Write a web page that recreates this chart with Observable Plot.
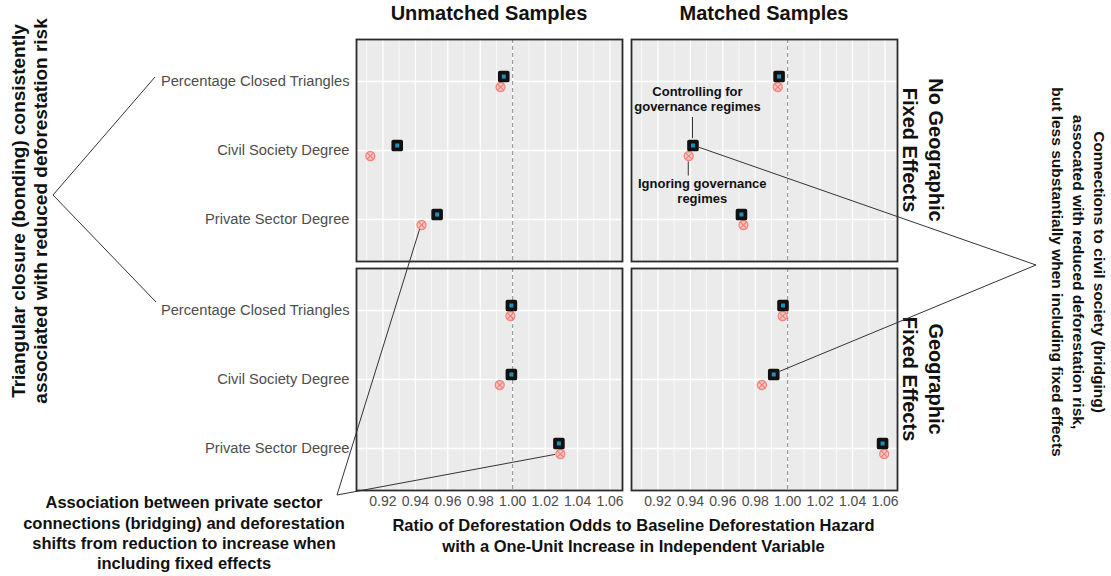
<!DOCTYPE html>
<html>
<head>
<meta charset="utf-8">
<script src="https://cdn.jsdelivr.net/npm/d3@7"></script>
<script src="https://cdn.jsdelivr.net/npm/@observablehq/plot@0.6"></script>
<style>
  body { margin: 0; background: #fff; }
  svg { display: block; }
</style>
</head>
<body>
<div id="chart"></div>
<script>
// ---- Data ----
const categories = ["Percentage Closed Triangles", "Civil Society Degree", "Private Sector Degree"];
const sampleLabels = ["Unmatched Samples", "Matched Samples"];
const effectLabels = ["No Geographic\nFixed Effects", "Geographic\nFixed Effects"];
const modelLabels = ["Controlling for governance regimes", "Ignoring governance regimes"];

// odds ratios per category (same order as categories)
const controlUnmatchedNoFE = [0.9945, 0.9288, 0.9534];
const ignoreUnmatchedNoFE  = [0.9925, 0.9122, 0.9438];
const controlUnmatchedFE   = [0.9992, 0.9992, 1.0285];
const ignoreUnmatchedFE    = [0.9986, 0.9920, 1.0294];
const controlMatchedNoFE   = [0.9947, 0.9416, 0.9715];
const ignoreMatchedNoFE    = [0.9939, 0.9390, 0.9727];
const controlMatchedFE     = [0.9971, 0.9914, 1.0585];
const ignoreMatchedFE      = [0.9969, 0.9841, 1.0595];

const xTicks = [0.92, 0.94, 0.96, 0.98, 1.00, 1.02, 1.04, 1.06];
const xMinorTicks = [0.91, 0.93, 0.95, 0.97, 0.99, 1.01, 1.03, 1.05];

const leftNote = ["Triangular closure (bonding) consistently", "associated with reduced deforestation risk"];
const rightNote = ["Connections to civil society (bridging)", "assocated with reduced deforestation risk,", "but less substantially when including fixed effects"];
const bottomNote = ["Association between private sector", "connections (bridging) and deforestation", "shifts from reduction to increase when", "including fixed effects"];
const controlNote = ["Controlling for", "governance regimes"];
const ignoreNote = ["Ignoring governance", "regimes"];
const xTitle = ["Ratio of Deforestation Odds to Baseline Deforestation Hazard", "with a One-Unit Increase in Independent Variable"];

const series = [
  {sample: sampleLabels[0], effect: effectLabels[0], model: modelLabels[0], values: controlUnmatchedNoFE},
  {sample: sampleLabels[0], effect: effectLabels[0], model: modelLabels[1], values: ignoreUnmatchedNoFE},
  {sample: sampleLabels[0], effect: effectLabels[1], model: modelLabels[0], values: controlUnmatchedFE},
  {sample: sampleLabels[0], effect: effectLabels[1], model: modelLabels[1], values: ignoreUnmatchedFE},
  {sample: sampleLabels[1], effect: effectLabels[0], model: modelLabels[0], values: controlMatchedNoFE},
  {sample: sampleLabels[1], effect: effectLabels[0], model: modelLabels[1], values: ignoreMatchedNoFE},
  {sample: sampleLabels[1], effect: effectLabels[1], model: modelLabels[0], values: controlMatchedFE},
  {sample: sampleLabels[1], effect: effectLabels[1], model: modelLabels[1], values: ignoreMatchedFE}
];
const rows = series.flatMap(s => categories.map((c, i) => ({
  sample: s.sample, effect: s.effect, model: s.model, category: c, value: s.values[i]
})));
const controlRows = rows.filter(d => d.model === modelLabels[0]);
const ignoreRows = rows.filter(d => d.model === modelLabels[1]);

const FONT = '"Liberation Sans", Arial, Helvetica, sans-serif';
const PINK = "#F8766D";
const BLUE = "#1E90C0";
const DY_CONTROL = -5;
const DY_IGNORE = 5.5;

const plot = Plot.plot({
  width: 1111,
  height: 576,
  marginLeft: 356,
  marginRight: 213,
  marginTop: 38,
  marginBottom: 85,
  style: {fontFamily: FONT, background: "white", overflow: "visible"},
  fx: {domain: sampleLabels, paddingInner: 0.0326, paddingOuter: 0, axis: null, label: null},
  fy: {domain: effectLabels, paddingInner: 0.0304, paddingOuter: 0, axis: null, label: null},
  x: {domain: [0.9037, 1.0677]},
  y: {type: "point", domain: categories, padding: 0.6},
  marks: [
    Plot.frame({fill: "#EBEBEB"}),
    Plot.ruleX(xMinorTicks, {stroke: "#fff", strokeWidth: 0.7}),
    Plot.ruleX(xTicks, {stroke: "#fff", strokeWidth: 1.3}),
    Plot.ruleY(categories, {stroke: "#fff", strokeWidth: 1.3}),
    Plot.ruleX([1], {stroke: "#7a7a7a", strokeWidth: 0.9, strokeDasharray: "4,3"}),
    Plot.frame({stroke: "#2b2b2b", strokeWidth: 1.8}),
    Plot.dot(ignoreRows, {x: "value", y: "category", fx: "sample", fy: "effect", dy: DY_IGNORE,
      symbol: "circle", r: 4.5, stroke: PINK, strokeWidth: 1.3, strokeOpacity: 0.85, fill: PINK, fillOpacity: 0.3}),
    Plot.dot(ignoreRows, {x: "value", y: "category", fx: "sample", fy: "effect", dy: DY_IGNORE,
      symbol: "times", r: 3, stroke: PINK, strokeWidth: 1.2, strokeOpacity: 0.9}),
    Plot.dot(controlRows, {x: "value", y: "category", fx: "sample", fy: "effect", dy: DY_CONTROL,
      symbol: "square", r: 4.4, fill: BLUE, stroke: "#111", strokeWidth: 3.8, strokeLinejoin: "round"}),
    Plot.axisX({ticks: xTicks, tickFormat: ".2f", tickSize: 0, tickPadding: 6, fontSize: 14, fill: "#4D4D4D", label: null}),
    Plot.axisY({tickSize: 0, tickPadding: 7, fontSize: 14.7, fill: "#4D4D4D", label: null})
  ]
});
document.getElementById("chart").appendChild(plot);

// ---- Annotations (positions derived from the plot's own scales) ----
const svg = d3.select(plot);
const sx = plot.scale("x"), sy = plot.scale("y"), sfx = plot.scale("fx"), sfy = plot.scale("fy");
const px = (s, v) => sfx.apply(s) + sx.apply(v) - sx.range[0];
const py = (e, c, off = 0) => sfy.apply(e) + sy.apply(c) - sy.range[0] + off;
const panelLeft = sfx.apply(sampleLabels[0]);
const panelRight = sfx.apply(sampleLabels[1]) + sfx.bandwidth;
const panelBottom = sfy.apply(effectLabels[1]) + sfy.bandwidth;

function textBlock(lines, cx, cy, {size = 14, weight = "bold", lh = 1.2, rotate = 0, fill = "#111"} = {}) {
  const g = svg.append("g")
    .attr("transform", `translate(${cx},${cy}) rotate(${rotate})`)
    .attr("font-family", FONT).attr("font-size", size).attr("font-weight", weight)
    .attr("fill", fill).attr("text-anchor", "middle");
  const n = lines.length;
  lines.forEach((t, i) => g.append("text")
    .attr("y", (i - (n - 1) / 2) * size * lh).attr("dy", "0.35em").text(t));
}
function line(x1, y1, x2, y2, shorten = 0) {
  const dx = x2 - x1, dy = y2 - y1, L = Math.hypot(dx, dy);
  const k = (L - shorten) / L;
  svg.append("line").attr("x1", x1).attr("y1", y1)
    .attr("x2", x1 + dx * k).attr("y2", y1 + dy * k)
    .attr("stroke", "#333").attr("stroke-width", 1);
}

// facet titles
sampleLabels.forEach(s => textBlock([s], sfx.apply(s) + sfx.bandwidth / 2, 13, {size: 20}));
effectLabels.forEach(e => textBlock(e.split("\n"), panelRight + 25.5, sfy.apply(e) + sfy.bandwidth / 2, {size: 20, lh: 1.3, rotate: 90}));

// x-axis title
textBlock(xTitle, (panelLeft + panelRight) / 2 + 7, panelBottom + 46, {size: 16.5, lh: 1.27});

// left note
const vL = [53, 195];
textBlock(leftNote, 29, 211, {size: 19, lh: 1.16, rotate: -90});
line(vL[0], vL[1], 155, py(effectLabels[0], categories[0], -4));
line(vL[0], vL[1], 156, py(effectLabels[1], categories[0], -8));

// right note
const vR = [1036, 265];
textBlock(rightNote, 1078, 272, {size: 15.5, lh: 1.35, rotate: 90});
line(vR[0], vR[1], px(sampleLabels[1], controlMatchedNoFE[1]), py(effectLabels[0], categories[1], DY_CONTROL), 7);
line(vR[0], vR[1], px(sampleLabels[1], controlMatchedFE[1]), py(effectLabels[1], categories[1], DY_CONTROL), 7);

// bottom-left note
const vB = [337, 495];
textBlock(bottomNote, 184, 533, {size: 16.5, lh: 1.24});
line(vB[0], vB[1], px(sampleLabels[0], ignoreUnmatchedNoFE[2]), py(effectLabels[0], categories[2], DY_IGNORE), 5);
line(vB[0], vB[1], px(sampleLabels[0], ignoreUnmatchedFE[2]), py(effectLabels[1], categories[2], DY_IGNORE), 5);

// in-panel labels for the two series
const bx = px(sampleLabels[1], controlMatchedNoFE[1]), by = py(effectLabels[0], categories[1], DY_CONTROL);
const qx = px(sampleLabels[1], ignoreMatchedNoFE[1]), qy = py(effectLabels[0], categories[1], DY_IGNORE);
textBlock(controlNote, bx + 5, by - 46, {size: 13, lh: 1.15});
line(bx, by - 28, bx, by - 7);
textBlock(ignoreNote, qx + 14, qy + 35.5, {size: 13, lh: 1.15});
line(qx, qy + 6, qx, qy + 20);
</script>
</body>
</html>
